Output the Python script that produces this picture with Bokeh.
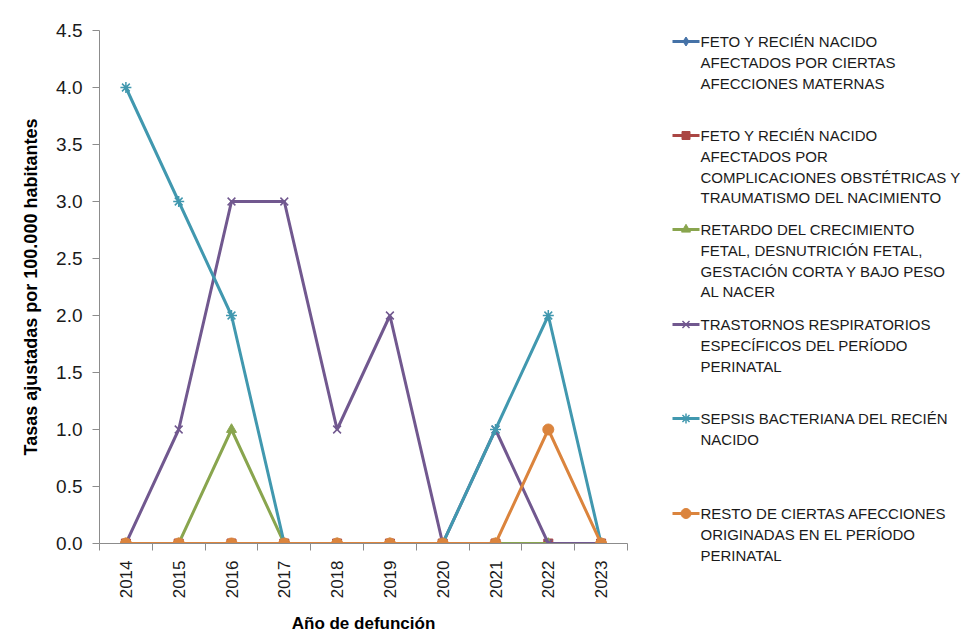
from bokeh.plotting import figure
from bokeh.layouts import row
from bokeh.models import Range1d, FixedTicker, NumeralTickFormatter
from bokeh.core.properties import value
from bokeh.embed import file_html
from bokeh.resources import INLINE
import math

# --- data -------------------------------------------------------------
years = ["2014", "2015", "2016", "2017", "2018", "2019", "2020", "2021", "2022", "2023"]

afecciones_maternas = [0, 0, 0, 0, 0, 0, 0, 0, 0, 0]
complicaciones_obstetricas = [0, 0, 0, 0, 0, 0, 0, 0, 0, 0]
retardo_crecimiento = [0, 0, 1, 0, 0, 0, 0, 0, 0, 0]
trastornos_respiratorios = [0, 1, 3, 3, 1, 2, 0, 1, 0, 0]
sepsis_bacteriana = [4, 3, 2, 0, 0, 0, 0, 1, 2, 0]
resto_afecciones = [0, 0, 0, 0, 0, 0, 0, 0, 1, 0]

series_labels = [
    ["FETO Y RECIÉN NACIDO", "AFECTADOS POR CIERTAS", "AFECCIONES MATERNAS"],
    ["FETO Y RECIÉN NACIDO", "AFECTADOS POR", "COMPLICACIONES OBSTÉTRICAS Y",
     "TRAUMATISMO DEL NACIMIENTO"],
    ["RETARDO DEL CRECIMIENTO", "FETAL, DESNUTRICIÓN FETAL,",
     "GESTACIÓN CORTA Y BAJO PESO", "AL NACER"],
    ["TRASTORNOS RESPIRATORIOS", "ESPECÍFICOS DEL PERÍODO", "PERINATAL"],
    ["SEPSIS BACTERIANA DEL RECIÉN", "NACIDO"],
    ["RESTO DE CIERTAS AFECCIONES", "ORIGINADAS EN EL PERÍODO", "PERINATAL"],
]
series_values = [afecciones_maternas, complicaciones_obstetricas, retardo_crecimiento,
                 trastornos_respiratorios, sepsis_bacteriana, resto_afecciones]

y_ticks = [0.0, 0.5, 1.0, 1.5, 2.0, 2.5, 3.0, 3.5, 4.0, 4.5]

# --- styles -----------------------------------------------------------
colors = ["#4572A7", "#AA4643", "#89A54E", "#71588F", "#4198AF", "#DB843D"]
markers = ["diamond", "square", "triangle", "x", "asterisk", "circle"]
marker_sizes = [10, 9, 10, 11, 11, 11]
FONT_NAME = "Liberation Sans"
FONT = value(FONT_NAME)
AXIS_GRAY = "#8C8C8C"
TEXT = "#1A1A1A"

# x positions: categories centred between boundary ticks
xc = [i + 0.5 for i in range(len(years))]
bounds = [i for i in range(len(years) + 1)]

p = figure(width=636, height=641, output_backend="svg", toolbar_location=None,
           x_range=Range1d(0, len(years)), y_range=Range1d(0, 4.5),
           min_border_left=99, min_border_right=9, min_border_top=30, min_border_bottom=98)
p.outline_line_color = None
p.xgrid.grid_line_color = None
p.ygrid.grid_line_color = None

for vals, col, mk, ms in zip(series_values, colors, markers, marker_sizes):
    p.line(xc, vals, line_color=col, line_width=3)
    hollow = mk in ("x", "asterisk")
    p.scatter(xc, vals, marker=mk, size=ms, line_color=col,
              fill_color=col, line_width=1.5 if hollow else 1)

# x axis: labels at centres, short ticks at category boundaries
xa = p.xaxis[0]
xa.ticker = FixedTicker(ticks=xc, minor_ticks=bounds)
xa.major_label_overrides = {x: y for x, y in zip(xc, years)}
xa.major_label_orientation = math.pi / 2
xa.major_tick_out = 0
xa.major_tick_in = 0
xa.minor_tick_out = 7
xa.minor_tick_in = 0
xa.minor_tick_line_color = AXIS_GRAY
xa.axis_line_color = AXIS_GRAY
xa.major_label_text_font = FONT_NAME
xa.major_label_text_font_size = "17px"
xa.major_label_text_color = TEXT
xa.major_label_standoff = 10
xa.axis_label = "Año de defunción"
xa.axis_label_text_font = FONT_NAME
xa.axis_label_text_font_size = "17px"
xa.axis_label_text_font_style = "bold"
xa.axis_label_text_color = "#000000"
xa.axis_label_standoff = 13

ya = p.yaxis[0]
ya.ticker = FixedTicker(ticks=y_ticks, minor_ticks=[])
ya.formatter = NumeralTickFormatter(format="0.0")
ya.major_tick_out = 7
ya.major_tick_in = 0
ya.major_tick_line_color = AXIS_GRAY
ya.axis_line_color = AXIS_GRAY
ya.major_label_text_font = FONT_NAME
ya.major_label_text_font_size = "19px"
ya.major_label_text_color = TEXT
ya.major_label_standoff = 10
ya.axis_label = "Tasas ajustadas por 100.000 habitantes"
ya.axis_label_text_font = FONT_NAME
ya.axis_label_text_font_size = "18px"
ya.axis_label_text_font_style = "bold"
ya.axis_label_text_color = "#000000"
ya.axis_label_standoff = 12

# --- legend panel (pixel coordinates, y downward) ----------------------
LW = 328
leg = figure(width=LW, height=641, output_backend="svg", toolbar_location=None,
             x_range=Range1d(0, LW), y_range=Range1d(641, 0), min_border=0,
             frame_align=False)
leg.axis.visible = False
leg.grid.visible = False
leg.outline_line_color = None

entry_tops = [41, 135, 229, 324, 418, 513]
line_gap = 20.8
sample_x0, sample_x1, text_x = 36, 63, 64

for top, lines, col, mk, ms in zip(entry_tops, series_labels, colors, markers, marker_sizes):
    leg.line([sample_x0, sample_x1], [top, top], line_color=col, line_width=3)
    hollow = mk in ("x", "asterisk")
    leg.scatter([(sample_x0 + sample_x1) / 2], [top], marker=mk, size=ms - 1,
                line_color=col, fill_color=col, line_width=1.5 if hollow else 1)
    ys = [top + k * line_gap for k in range(len(lines))]
    leg.text(x=[text_x] * len(lines), y=ys, text=lines, text_font=FONT,
             text_font_size="15px", text_baseline="middle", text_align="left",
             text_color=TEXT)

layout = row(p, leg, spacing=0)
open("out.html", "w").write(file_html(layout, INLINE))
